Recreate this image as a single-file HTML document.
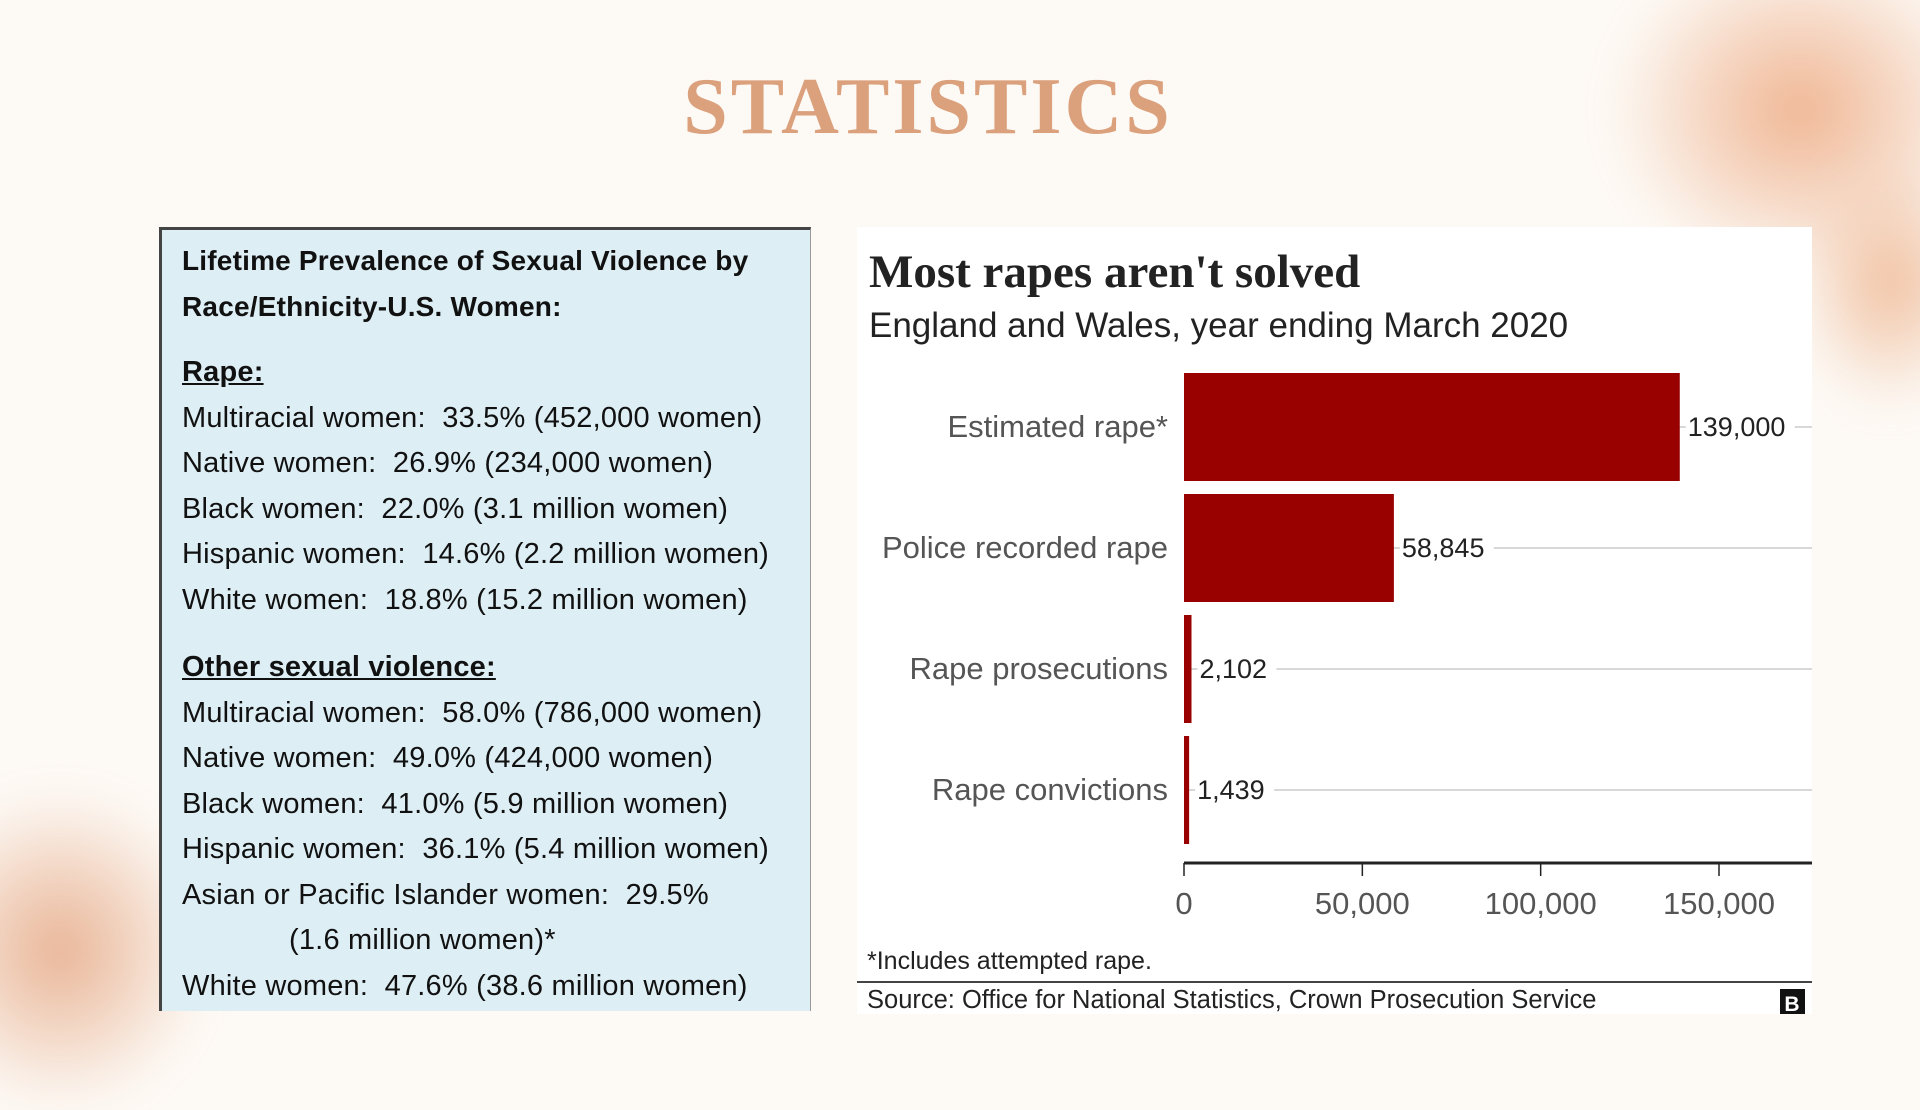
<!DOCTYPE html>
<html><head><meta charset="utf-8"><style>
*{margin:0;padding:0;box-sizing:border-box}
body{width:1920px;height:1080px;background:#fdf9f4;position:relative;overflow:hidden;font-family:"Liberation Sans",sans-serif}
.blob{position:absolute;border-radius:50%;filter:blur(18px)}
#title{position:absolute;left:0;width:1856px;top:62px;text-align:center;font-family:"Liberation Serif",serif;font-size:80px;font-weight:bold;color:#dba07c;letter-spacing:3px}
#box{position:absolute;left:159px;top:227px;width:652px;height:784px;background:#ddeef4;border-left:3px solid #444;border-top:3px solid #444;border-right:1px solid #999;padding:8px 0 0 20px;color:#111;font-size:29px;line-height:45.5px;letter-spacing:0.2px}
#box .h{font-weight:bold;font-size:28px}
#box u{font-weight:bold}
#panel{position:absolute;left:857px;top:227px;width:955px;height:787px;background:#fff}
</style></head><body>
<div class="blob" style="left:1610px;top:-60px;width:380px;height:340px;background:radial-gradient(#efb592,rgba(239,181,146,0) 70%)"></div>
<div class="blob" style="left:1790px;top:150px;width:200px;height:260px;background:radial-gradient(#f0c0a0,rgba(240,192,160,0) 70%)"></div>
<div class="blob" style="left:-90px;top:790px;width:300px;height:320px;background:radial-gradient(#e8b394,rgba(232,179,148,0) 70%)"></div>
<div id="title">STATISTICS</div>
<div id="box">
<div class="h">Lifetime Prevalence of Sexual Violence by<br>Race/Ethnicity-U.S. Women:</div>
<div style="height:21px"></div>
<div><u>Rape:</u></div>
<div>Multiracial women:&nbsp; 33.5% (452,000 women)</div>
<div>Native women:&nbsp; 26.9% (234,000 women)</div>
<div>Black women:&nbsp; 22.0% (3.1 million women)</div>
<div>Hispanic women:&nbsp; 14.6% (2.2 million women)</div>
<div>White women:&nbsp; 18.8% (15.2 million women)</div>
<div style="height:22px"></div>
<div><u>Other sexual violence:</u></div>
<div>Multiracial women:&nbsp; 58.0% (786,000 women)</div>
<div>Native women:&nbsp; 49.0% (424,000 women)</div>
<div>Black women:&nbsp; 41.0% (5.9 million women)</div>
<div>Hispanic women:&nbsp; 36.1% (5.4 million women)</div>
<div>Asian or Pacific Islander women:&nbsp; 29.5%</div>
<div style="padding-left:107px">(1.6 million women)*</div>
<div>White women:&nbsp; 47.6% (38.6 million women)</div>
</div>
<div id="panel"></div>
<svg id="chart" width="1920" height="1080" style="position:absolute;left:0;top:0">
<text x="869" y="287" font-family="Liberation Serif,serif" font-weight="bold" font-size="47" fill="#222">Most rapes aren't solved</text>
<text x="869" y="337" font-size="35" fill="#222">England and Wales, year ending March 2020</text>
<g id="bars"></g>
<text x="867" y="969" font-size="25" fill="#222">*Includes attempted rape.</text>
<line x1="857" y1="982" x2="1812" y2="982" stroke="#444" stroke-width="2"/>
<text x="867" y="1008" font-size="25.5" fill="#222">Source: Office for National Statistics, Crown Prosecution Service</text>
<rect x="1780" y="989" width="25" height="25" fill="#111"/>
<text x="1792" y="1011" font-size="21" font-weight="bold" fill="#fff" text-anchor="middle">B</text>
</svg>
<script>
const categories=["Estimated rape*","Police recorded rape","Rape prosecutions","Rape convictions"];
const values=[139000,58845,2102,1439];
const valueLabels=["139,000","58,845","2,102","1,439"];
const ticks=[0,50000,100000,150000];
const tickLabels=["0","50,000","100,000","150,000"];
const NS="http://www.w3.org/2000/svg";
const g=document.getElementById('bars');
const x=v=>1184+v*(535/150000);
const bandTop=i=>373+i*121;
function mk(t,a){const e=document.createElementNS(NS,t);for(const k in a)e.setAttribute(k,a[k]);g.appendChild(e);return e;}
categories.forEach((c,i)=>{
  const cy=bandTop(i)+54;
  const gl=mk('line',{x1:x(0),x2:1812,y1:cy,y2:cy,stroke:'#ccc','stroke-width':1.5});
  
  
  const r=mk('rect',{x:x(0),y:bandTop(i),width:Math.max(x(values[i])-x(0),5),height:108,fill:'#990000'});
  
  
  const l=mk('text',{x:1168,y:cy+10,'text-anchor':'end','font-size':31,fill:'#555'});
  l.textContent=c;
  
  
  const vx=Math.max(x(values[i]),x(0)+5)+8;
  const bg=mk('rect',{x:vx-2,y:cy-14,width:valueLabels[i].length*15+4,height:28,fill:'#fff'});
  
  
  const v=mk('text',{x:vx,y:cy+9,'font-size':27,fill:'#222'});
  v.textContent=valueLabels[i];
  
  
});
const ax=mk('line',{x1:x(0),x2:1812,y1:863,y2:863,stroke:'#222','stroke-width':3});


ticks.forEach((t,i)=>{
  const tk=mk('line',{x1:x(t),x2:x(t),y1:863,y2:876,stroke:'#222','stroke-width':1.5});
  
  
  const tl=mk('text',{x:x(t),y:914,'text-anchor':'middle','font-size':31,fill:'#555'});
  tl.textContent=tickLabels[i];
  
  
});
</script>
</body></html>
